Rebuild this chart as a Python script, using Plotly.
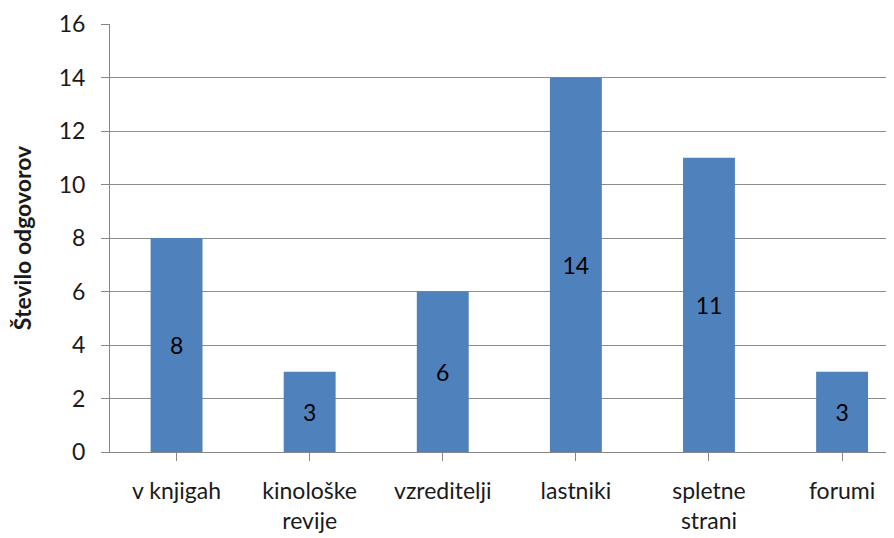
import plotly.graph_objects as go

categories = ["v knjigah", "kinološke<br>revije", "vzreditelji", "lastniki", "spletne<br>strani", "forumi"]
values = [8, 3, 6, 14, 11, 3]
y_ticks = [0, 2, 4, 6, 8, 10, 12, 14, 16]

fig = go.Figure(go.Bar(
    x=list(range(len(categories))),
    y=values,
    width=0.39,
    marker=dict(color="#4F81BD", line=dict(width=0)),
    text=[str(v) for v in values],
    textposition="inside",
    insidetextanchor="middle",
    textfont=dict(color="#000000", size=23),
))

# the page body adds an 8px offset, so margins are shifted to compensate
fig.update_layout(
    width=894, height=538,
    plot_bgcolor="white", paper_bgcolor="white",
    margin=dict(l=102, r=8, t=16, b=94),
    showlegend=False,
    font=dict(family="Lato, Open Sans, Arial, sans-serif", size=23, color="#1a1a1a"),
    xaxis=dict(
        range=[-0.5, 5.39],
        tickvals=list(range(len(categories))),
        ticktext=categories,
        tickson="boundaries",
        ticks="outside", ticklen=8, tickcolor="#868686",
        showline=True, linecolor="#868686", linewidth=1,
        showgrid=False, zeroline=False,
        automargin=False,
        ticklabelstandoff=10,
    ),
    yaxis=dict(
        range=[0, 16],
        tickvals=y_ticks,
        ticks="outside", ticklen=8, tickcolor="#868686",
        showline=True, linecolor="#868686", linewidth=1,
        showgrid=True, gridcolor="#8c8c8c", gridwidth=1,
        zeroline=False,
        automargin=False,
        ticklabelstandoff=11,
        title=dict(text="<b>Število odgovorov</b>", font=dict(size=23), standoff=20),
    ),
)

fig.write_html("out.html")
